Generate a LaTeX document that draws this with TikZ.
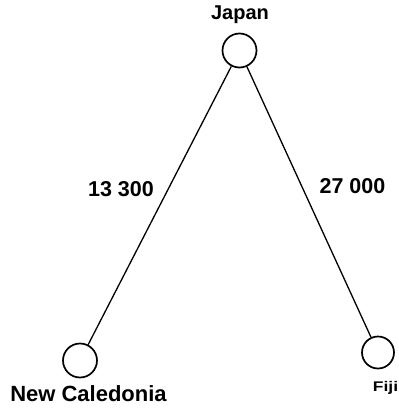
\documentclass[tikz,border=0pt]{standalone}
\usepackage{fontspec}
\setmainfont{Liberation Sans}
\begin{document}
\begin{tikzpicture}[x=1pt,y=-1pt,
  site/.style={circle,draw,line width=1.7pt,minimum size=34pt,inner sep=0pt},
  link/.style={line width=1.3pt},
  place/.style={font=\bfseries\fontsize{20}{20}\selectfont,inner sep=0pt,anchor=base},
  dist/.style={font=\bfseries\fontsize{21.5}{21.5}\selectfont,inner sep=0pt,anchor=base}]
\useasboundingbox (0,0) rectangle (399,410);
% islands
\node[site] (japan) at (239.5,50.5) {};
\node[site] (nc) at (80,360.5) {};
\node[site,minimum size=32pt] (fiji) at (378,352.5) {};
% names
\node[place] (japanlbl) at (240,19) {Japan};
\node[place,font=\bfseries\fontsize{22}{22}\selectfont] (nclbl) at (88.5,401) {New Caledonia};
\node[place,font=\bfseries\fontsize{14}{14}\selectfont,xscale=1.25] (fijilbl) at (385.5,391) {Fiji};
% routes
\draw[link] (japan) -- (nc);
\draw[link] (japan) -- (fiji);
% distances
\node[dist] (d1) at (121,196) {13 300};
\node[dist] (d2) at (352.5,193) {27 000};
\end{tikzpicture}
\end{document}
